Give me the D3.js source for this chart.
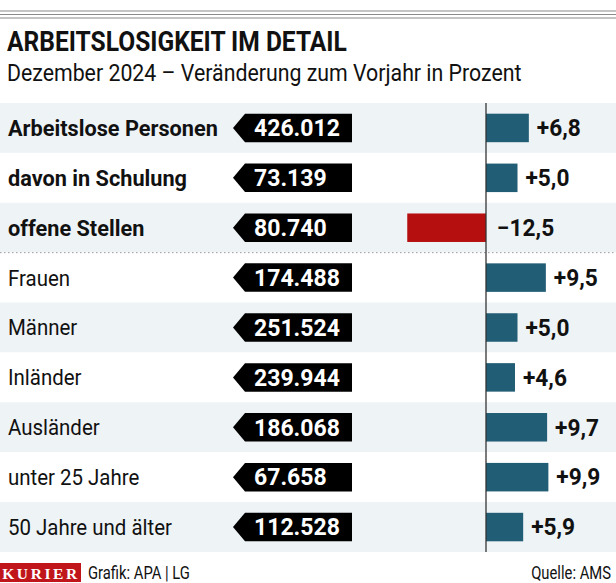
<!DOCTYPE html>
<html><head><meta charset="utf-8">
<script src="https://cdn.jsdelivr.net/npm/d3@7/dist/d3.min.js"></script>
<style>
body{margin:0;background:#fff;}
svg{display:block;font-family:Roboto,"Liberation Sans",sans-serif;}
</style></head><body>
<svg id="c" width="616" height="583"></svg>
<script>
const categories = ["Arbeitslose Personen","davon in Schulung","offene Stellen","Frauen","Männer","Inländer","Ausländer","unter 25 Jahre","50 Jahre und älter"];
const counts = [426012,73139,80740,174488,251524,239944,186068,67658,112528];
const changes = [6.8,5.0,-12.5,9.5,5.0,4.6,9.7,9.9,5.9];
const boldRows = [true,true,true,false,false,false,false,false,false];
const title = "ARBEITSLOSIGKEIT IM DETAIL";
const subtitle = "Dezember 2024 – Veränderung zum Vorjahr in Prozent";
const credit = "Grafik: APA | LG";
const source = "Quelle: AMS";

const de = d3.formatLocale({decimal:",",thousands:".",grouping:[3],currency:["","€"]});
const fmtCount = de.format(",d");
const fmtChange = v => (v>0?"+":"−") + de.format(".1f")(Math.abs(v));

const svg = d3.select("#c");
const W = 616;

function factor(sample, size, weight, target){
  const t = svg.append("text").attr("font-size",size).attr("font-weight",weight).text(sample);
  const w = t.node().getComputedTextLength(); t.remove();
  return target / w;
}
function squeeze(sel, f){
  sel.each(function(){
    const t = d3.select(this); const x = +t.attr("x");
    t.attr("transform",`translate(${x},0) scale(${f},1) translate(${-x},0)`);
  });
}

[11,14.5,18].forEach(y=>svg.append("line").attr("x1",0).attr("x2",W).attr("y1",y).attr("y2",y).attr("stroke","#8a8a8a").attr("stroke-width",1.2));

const tt = svg.append("text").attr("x",7).attr("y",51).attr("font-size",28.5).attr("font-weight","bold").attr("fill","#111").text(title);
squeeze(tt, factor(title,28.5,"bold",340));
const st = svg.append("text").attr("x",7).attr("y",81).attr("font-size",23).attr("fill","#111").text(subtitle);
squeeze(st, factor(subtitle,23,"normal",515));

const y = d3.scaleBand().domain(categories).range([103,552]).padding(0);
const x = d3.scaleLinear().domain([-12.5,10]).range([407.25,549]);

const rows = svg.append("g").selectAll("g").data(categories).join("g")
  .attr("transform",d=>`translate(0,${y(d)})`);

rows.append("rect").attr("x",0).attr("width",W).attr("height",y.bandwidth())
  .attr("fill",(d,i)=>i%2===0?"#eef3f6":"#ffffff");

const bh = y.bandwidth();
const fBold = factor("Arbeitslose Personen",22,"bold",210);
const fReg = factor("50 Jahre und älter",22,"normal",164);
rows.append("text").attr("x",8).attr("y",bh/2).attr("dy","0.36em")
  .attr("font-size",22).attr("font-weight",(d,i)=>boldRows[i]?"bold":"normal")
  .attr("fill","#111").text(d=>d)
  .each(function(d,i){ squeeze(d3.select(this), boldRows[i]?fBold:fReg); });

const tagL=233, tagR=352, tagH=28.5, tip=12;
rows.append("path").attr("d",`M${tagL},${bh/2} L${tagL+tip},${bh/2-tagH/2} L${tagR},${bh/2-tagH/2} L${tagR},${bh/2+tagH/2} L${tagL+tip},${bh/2+tagH/2} Z`)
  .attr("fill","#000");
const fNum = factor("426.012",23,"bold",86);
squeeze(rows.append("text").attr("x",254).attr("y",bh/2).attr("dy","0.36em")
  .attr("font-size",23).attr("font-weight","bold").attr("fill","#fff")
  .text((d,i)=>fmtCount(counts[i])), fNum);

const barH = 28.5;
rows.append("rect")
  .attr("x",(d,i)=>x(Math.min(0,changes[i])))
  .attr("width",(d,i)=>Math.abs(x(changes[i])-x(0)))
  .attr("y",bh/2-barH/2).attr("height",barH)
  .attr("fill",(d,i)=>changes[i]<0?"#b5100f":"#215d74");
const fChg = factor("+6,8",23,"bold",44);
squeeze(rows.append("text")
  .attr("x",(d,i)=>changes[i]<0?x(0)+11:x(changes[i])+8)
  .attr("y",bh/2).attr("dy","0.36em")
  .attr("font-size",23).attr("font-weight","bold").attr("fill","#111")
  .text((d,i)=>fmtChange(changes[i])), fChg);

svg.append("line").attr("x1",0).attr("x2",W).attr("y1",y(categories[3])).attr("y2",y(categories[3]))
  .attr("stroke","#999").attr("stroke-width",1).attr("stroke-dasharray","1.5,2.5");

svg.append("line").attr("x1",x(0)).attr("x2",x(0)).attr("y1",103).attr("y2",552)
  .attr("stroke","#333").attr("stroke-width",1.3);

svg.append("rect").attr("x",0).attr("y",563).attr("width",81).attr("height",19).attr("fill","#c0161b");
svg.append("text").attr("x",41).attr("y",578.5).attr("text-anchor","middle")
  .attr("font-family","'Liberation Serif','DejaVu Serif',serif").attr("font-size",15.5).attr("font-weight","bold").attr("fill","#fff")
  .attr("letter-spacing",2.6).text("KURIER");
const fFoot = factor(credit,18,"normal",102);
squeeze(svg.append("text").attr("x",88).attr("y",579).attr("font-size",18).attr("fill","#111").text(credit), fFoot);
squeeze(svg.append("text").attr("x",611).attr("y",579).attr("text-anchor","end").attr("font-size",18).attr("fill","#111").text(source), fFoot);
</script>
</body></html>
